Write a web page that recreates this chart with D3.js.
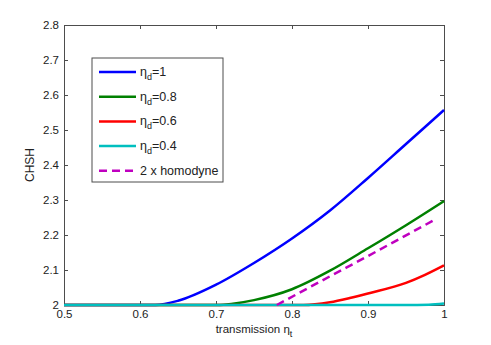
<!DOCTYPE html>
<html>
<head>
<meta charset="utf-8">
<script src="https://cdn.jsdelivr.net/npm/d3@7"></script>
<style>
  body { margin: 0; background: #fff; }
  text { font-family: "Liberation Sans", Arial, sans-serif; fill: #222; }
</style>
</head>
<body>
<div id="chart"></div>
<script>
// values
var xTicks = [0.5, 0.6, 0.7, 0.8, 0.9, 1];
var yTicks = [2, 2.1, 2.2, 2.3, 2.4, 2.5, 2.6, 2.7, 2.8];

var eta1 = [[0.5, 2], [0.62, 2], [0.65, 2.012], [0.7, 2.058], [0.75, 2.12], [0.8, 2.19], [0.85, 2.27], [0.9, 2.363], [0.95, 2.46], [1, 2.557]];
var eta08 = [[0.5, 2], [0.705, 2], [0.72, 2.003], [0.75, 2.014], [0.8, 2.045], [0.85, 2.098], [0.9, 2.162], [0.95, 2.228], [1, 2.297]];
var eta06 = [[0.5, 2], [0.815, 2], [0.85, 2.008], [0.876, 2.02], [0.9, 2.033], [0.95, 2.063], [0.975, 2.086], [1, 2.113]];
var eta04 = [[0.5, 2], [0.95, 2], [0.98, 2.001], [1, 2.004]];
var homodyne = [[0.78, 2], [0.85, 2.082], [0.9, 2.14], [0.95, 2.199], [0.99, 2.246]];

var series = [
    { name: "1", data: eta1, color: "#0000ff", dash: null },
    { name: "0.8", data: eta08, color: "#008000", dash: null },
    { name: "0.6", data: eta06, color: "#ff0000", dash: null },
    { name: "0.4", data: eta04, color: "#00bfbf", dash: null },
    { name: "2 x homodyne", data: homodyne, color: "#bf00bf", dash: "8,5" }
];

var W = 491, H = 345;
var margin = { top: 25, right: 47, bottom: 40, left: 64 };
var width = W - margin.left - margin.right,
    height = H - margin.top - margin.bottom;

var svg = d3.select("#chart").append("svg")
    .attr("width", W)
    .attr("height", H);

var g = svg.append("g")
    .attr("transform", "translate(" + margin.left + "," + margin.top + ")");

var x = d3.scaleLinear().domain([0.5, 1]).range([0, width]);
var y = d3.scaleLinear().domain([2, 2.8]).range([height, 0]);

var axisColor = "#4d4d4d";

// axes with inward ticks (matlab style)
var xAxis = g.append("g")
    .attr("transform", "translate(0," + height + ")")
    .call(d3.axisBottom(x).tickValues(xTicks).tickSize(-4).tickPadding(5).tickFormat(d3.format("")));
var xTop = g.append("g")
    .call(d3.axisTop(x).tickValues(xTicks).tickSize(-4).tickFormat(""));
var yAxis = g.append("g")
    .call(d3.axisLeft(y).tickValues(yTicks).tickSize(-4).tickPadding(5).tickFormat(d3.format("")));
var yRight = g.append("g")
    .attr("transform", "translate(" + width + ",0)")
    .call(d3.axisRight(y).tickValues(yTicks).tickSize(-4).tickFormat(""));

[xAxis, xTop, yAxis, yRight].forEach(function(a) {
    a.selectAll("path").attr("stroke", axisColor);
    a.selectAll("line").attr("stroke", axisColor);
    a.selectAll("text").style("font-size", "11.5px").attr("fill", "#222");
});

var line = d3.line()
    .x(function(d) { return x(d[0]); })
    .y(function(d) { return y(d[1]); })
    .curve(d3.curveMonotoneX);

g.selectAll(".series")
    .data(series)
    .enter()
    .append("path")
    .attr("class", "series")
    .attr("d", function(d) { return line(d.data); })
    .attr("fill", "none")
    .attr("stroke", function(d) { return d.color; })
    .attr("stroke-width", 2.5)
    .attr("stroke-dasharray", function(d) { return d.dash; });

// axis labels
var xl = svg.append("text")
    .attr("x", margin.left + width / 2)
    .attr("y", 333)
    .attr("text-anchor", "middle")
    .style("font-size", "11.5px");
xl.append("tspan").text("transmission \u03b7");
xl.append("tspan").attr("dy", 4).style("font-size", "9px").text("t");

svg.append("text")
    .attr("transform", "translate(34," + (margin.top + height / 2) + ")rotate(-90)")
    .attr("text-anchor", "middle")
    .style("font-size", "12px")
    .text("CHSH");

// legend
var legend = svg.append("g").attr("transform", "translate(92,58)");
legend.append("rect")
    .attr("width", 131)
    .attr("height", 124)
    .attr("fill", "#fff")
    .attr("stroke", axisColor)
    .attr("stroke-width", 1);

var rows = legend.selectAll(".row")
    .data(series)
    .enter()
    .append("g")
    .attr("class", "row")
    .attr("transform", function(d, i) { return "translate(0," + (14 + i * 24.7) + ")"; });

rows.append("line")
    .attr("x1", 7).attr("x2", 44)
    .attr("stroke", function(d) { return d.color; })
    .attr("stroke-width", 2.5)
    .attr("stroke-dasharray", function(d) { return d.dash; });

rows.each(function(d) {
    var t = d3.select(this).append("text")
        .attr("x", 48)
        .attr("y", 4)
        .style("font-size", "12.5px");
    if (d.dash) {
        t.text(d.name);
    } else {
        t.append("tspan").text("\u03b7");
        t.append("tspan").attr("dy", 4).style("font-size", "9px").text("d");
        t.append("tspan").attr("dy", -4).text("=" + d.name);
    }
});
</script>
</body>
</html>
